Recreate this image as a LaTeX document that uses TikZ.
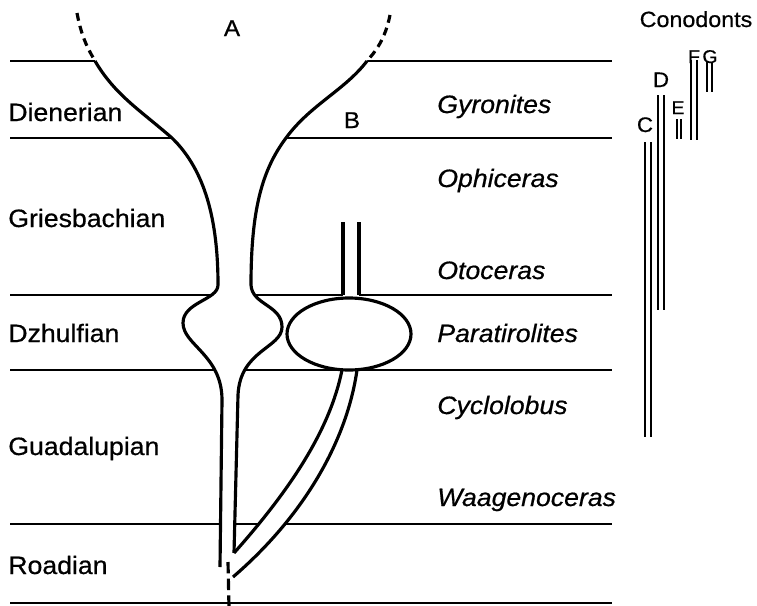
\documentclass[tikz,border=0pt]{standalone}
\usepackage{fontspec}
\setmainfont{Liberation Sans}[FakeStretch=1.06,FakeBold=0.6]
\usetikzlibrary{calc}

\tikzset{
  bedline/.style={line width=1.3pt},
  wall/.style={line width=1.8pt, line join=round},
  brokenwall/.style={line width=1.8pt, dash pattern=on 4.5pt off 3pt},
  conoline/.style={line width=1.6pt},
  stage/.style={anchor=base west, inner sep=0pt, font=\fontsize{14.3}{16}\selectfont},
  genus/.style={anchor=base west, inner sep=0pt, font=\fontsize{14.3}{16}\selectfont\itshape},
  clade/.style={anchor=base, font=\fontsize{13}{15}\selectfont},
  cono/.style={anchor=base, font=\fontsize{12}{14}\selectfont},
  conosmall/.style={anchor=base, font=\fontsize{10.5}{12}\selectfont}
}

\begin{document}
\begin{tikzpicture}[x=0.02cm,y=-0.02cm]
\useasboundingbox (0,0) rectangle (757,605);

% stage boundaries
\foreach \y in {61,138,295,370,524,603}
  \draw[bedline] (10,\y) -- (612,\y);

% blank the insides of the tubes
\fill[white] (95,57) -- (95,61) .. controls (115,95) and (140,110) .. (172,138)
  .. controls (205,170) and (218,220) .. (218,285)
  .. controls (218,300) and (183,302) .. (183,323)
  .. controls (183,345) and (222,355) .. (222,400) -- (220,567)
  -- (234,553) -- (238,395) .. controls (240,350) and (282,348) .. (282,327)
  .. controls (282,305) and (252,305) .. (251,285)
  .. controls (251,210) and (262,170) .. (286,138)
  .. controls (310,105) and (345,90) .. (367,61) -- (367,57) -- cycle;
\fill[white] (343,220) rectangle (359,297);
\fill[white] (342,366) -- (342,370) .. controls (330,430) and (290,490) .. (233,553)
  -- (233,577) .. controls (305,515) and (347,440) .. (357,370) -- (357,366) -- cycle;

% lineage A
\draw[brokenwall] (77,13) .. controls (82,40) and (90,52) .. (95,61);
\draw[brokenwall] (390,15) .. controls (385,40) and (375,52) .. (367,61);
\draw[wall] (95,61) .. controls (115,95) and (140,110) .. (172,138)
  .. controls (205,170) and (218,220) .. (218,285)
  .. controls (218,300) and (183,302) .. (183,323)
  .. controls (183,345) and (222,355) .. (222,400) -- (220,567);
\draw[wall] (367,61) .. controls (345,90) and (310,105) .. (286,138)
  .. controls (262,170) and (251,210) .. (251,285)
  .. controls (252,305) and (282,305) .. (282,327)
  .. controls (282,348) and (240,350) .. (238,395) -- (234,553);

% lineage B
\draw[wall] (343,222) -- (343,295);
\draw[wall] (359,222) -- (359,295);
\draw[wall] (349,334) ellipse [x radius=62, y radius=36];
\draw[wall] (342,370) .. controls (330,430) and (290,490) .. (234,553);
\draw[wall] (357,370) .. controls (347,440) and (305,515) .. (233,577);
\draw[wall, dash pattern=on 6.5pt off 3pt] (228,562) -- (229,608);

% labels
\node[clade] (labA) at (232,36) {A};
\node[clade] (labB) at (352,128) {B};

\node[stage] (dien) at (8,121) {Dienerian};
\node[stage] (gries) at (8,227) {Griesbachian};
\node[stage] (dzhul) at (8,342) {Dzhulfian};
\node[stage] (guad) at (8,455) {Guadalupian};
\node[stage] (road) at (8,574) {Roadian};

\node[genus] (gyro) at (437,113) {Gyronites};
\node[genus] (ophi) at (437,187) {Ophiceras};
\node[genus] (oto) at (437,279) {Otoceras};
\node[genus] (para) at (437,342) {Paratirolites};
\node[genus] (cyclo) at (437,414) {Cyclolobus};
\node[genus] (waag) at (437,506) {Waagenoceras};

% conodont ranges
\node[cono, font=\fontsize{12.5}{14}\selectfont] (conod) at (696,27) {Conodonts};
\foreach \x/\ya/\yb in {645/142/437, 651/142/437, 658/95/310, 664/95/310,
    677/119/139, 681/119/139, 691/60/140, 697/60/140, 707/62/92, 712/62/92}
  \draw[conoline] (\x,\ya) -- (\x,\yb);
\node[cono] (labC) at (645,132) {C};
\node[cono] (labD) at (661,87) {D};
\node[conosmall] (labE) at (678,114) {E};
\node[conosmall] (labF) at (694,63) {F};
\node[conosmall] (labG) at (710,63) {G};
\end{tikzpicture}
\end{document}
